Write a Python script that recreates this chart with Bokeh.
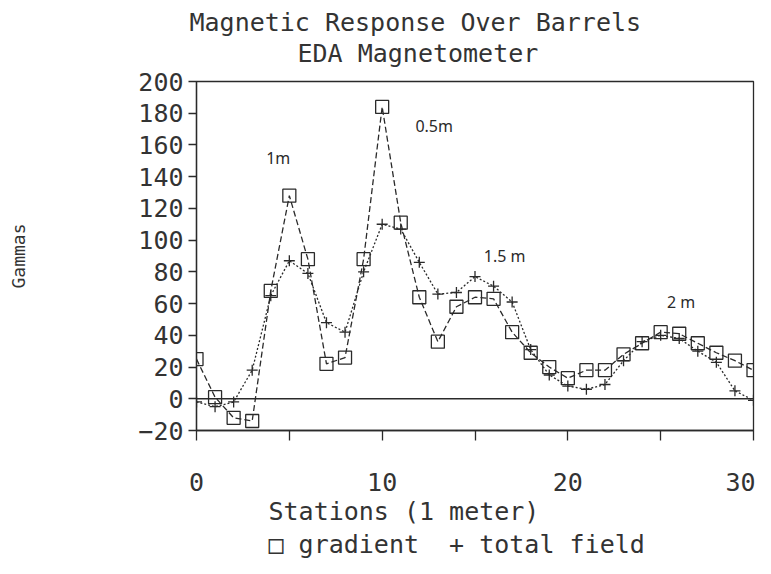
import math
from bokeh.plotting import figure
from bokeh.models import Range1d, Label, Span, FixedTicker, Title
from bokeh.embed import file_html
from bokeh.resources import INLINE

stations = list(range(31))
gradient = [25, 1, -12, -14, 68, 128, 88, 22, 26, 88, 184, 111, 64, 36, 58, 64,
            63, 42, 29, 20, 13, 18, 18, 28, 35, 42, 41, 35, 29, 24, 18]
total_field = [-2, -5, -2, 18, 65, 87, 79, 48, 42, 80, 110, 107, 86, 66, 67, 77,
               71, 61, 31, 15, 8, 6, 9, 24, 36, 40, 38, 30, 23, 5, -1]
x_ticks = [0, 5, 10, 15, 20, 25, 30]
y_ticks = list(range(-20, 201, 20))

title_lines = ["Magnetic Response Over Barrels", "EDA Magnetometer"]
x_title = "Stations (1 meter)"
y_title = "Gammas"
legend_text = "\u25a1 gradient\u00a0\u00a0+ total field"
notes = [("1m", 4.4, 152), ("0.5m", 12.8, 172), ("1.5 m", 16.6, 90), ("2 m", 26.1, 61)]

FONT = "DejaVu Sans Mono"
INK = "#2a2a2a"
TXT = "#333333"
FS = "25px"

p = figure(width=755, height=558, x_range=Range1d(0, 30), y_range=Range1d(-20, 200),
           output_backend="svg", toolbar_location=None, title=None,
           min_border_left=196, min_border_right=2, min_border_top=81,
           min_border_bottom=128)
p.outline_line_color = INK
p.outline_line_width = 1.3
p.grid.visible = False

xa = p.xaxis[0]
xa.ticker = FixedTicker(ticks=x_ticks)
xa.major_label_overrides = {5: "", 15: "", 25: ""}
xa.minor_tick_line_color = None
xa.major_tick_in = 0
xa.major_tick_out = 10
xa.major_label_standoff = 32
ya = p.yaxis[0]
ya.ticker = FixedTicker(ticks=y_ticks)
ya.minor_tick_line_color = None
ya.major_tick_in = 0
ya.major_tick_out = 8
ya.major_label_standoff = 5
ya.axis_label = y_title
ya.axis_label_standoff = 106
ya.axis_label_text_font = FONT
ya.axis_label_text_font_size = "18px"
ya.axis_label_text_font_style = "normal"
ya.axis_label_text_color = TXT
for ax in (xa, ya):
    ax.axis_line_color = INK
    ax.axis_line_width = 1.3
    ax.major_tick_line_color = INK
    ax.major_tick_line_width = 1.3
    ax.major_label_text_font = FONT
    ax.major_label_text_font_size = FS
    ax.major_label_text_color = TXT

p.add_layout(Span(location=0, dimension="width", line_color=INK, line_width=1.3))

p.line(stations, gradient, line_color=INK, line_width=1.3, line_dash="6 3")
p.scatter(stations, gradient, marker="square", size=13, fill_color=None,
          line_color=INK, line_width=1.3)
p.line(stations, total_field, line_color=INK, line_width=1.3, line_dash="2 2")
p.scatter(stations, total_field, marker="cross", size=11, line_color=INK,
          line_width=1.3)

for txt, nx, ny in notes:
    p.add_layout(Label(x=nx, y=ny, text=txt, text_font="Noto Sans", text_font_size="16px",
                       text_color=INK, text_align="center", text_baseline="middle"))

def add_title(text, side, left_px, standoff):
    t = Title(text=text, align="left", offset=left_px - 196, text_font=FONT,
              text_font_size=FS, text_font_style="normal", text_color=TXT)
    try:
        t.standoff = standoff
    except Exception:
        pass
    p.add_layout(t, side)

add_title(title_lines[1], "above", 297, 28)
add_title(title_lines[0], "above", 189, -28)
add_title(x_title, "below", 268, 3)
add_title(legend_text, "below", 268, 0)

open("out.html", "w").write(file_html(p, INLINE))
